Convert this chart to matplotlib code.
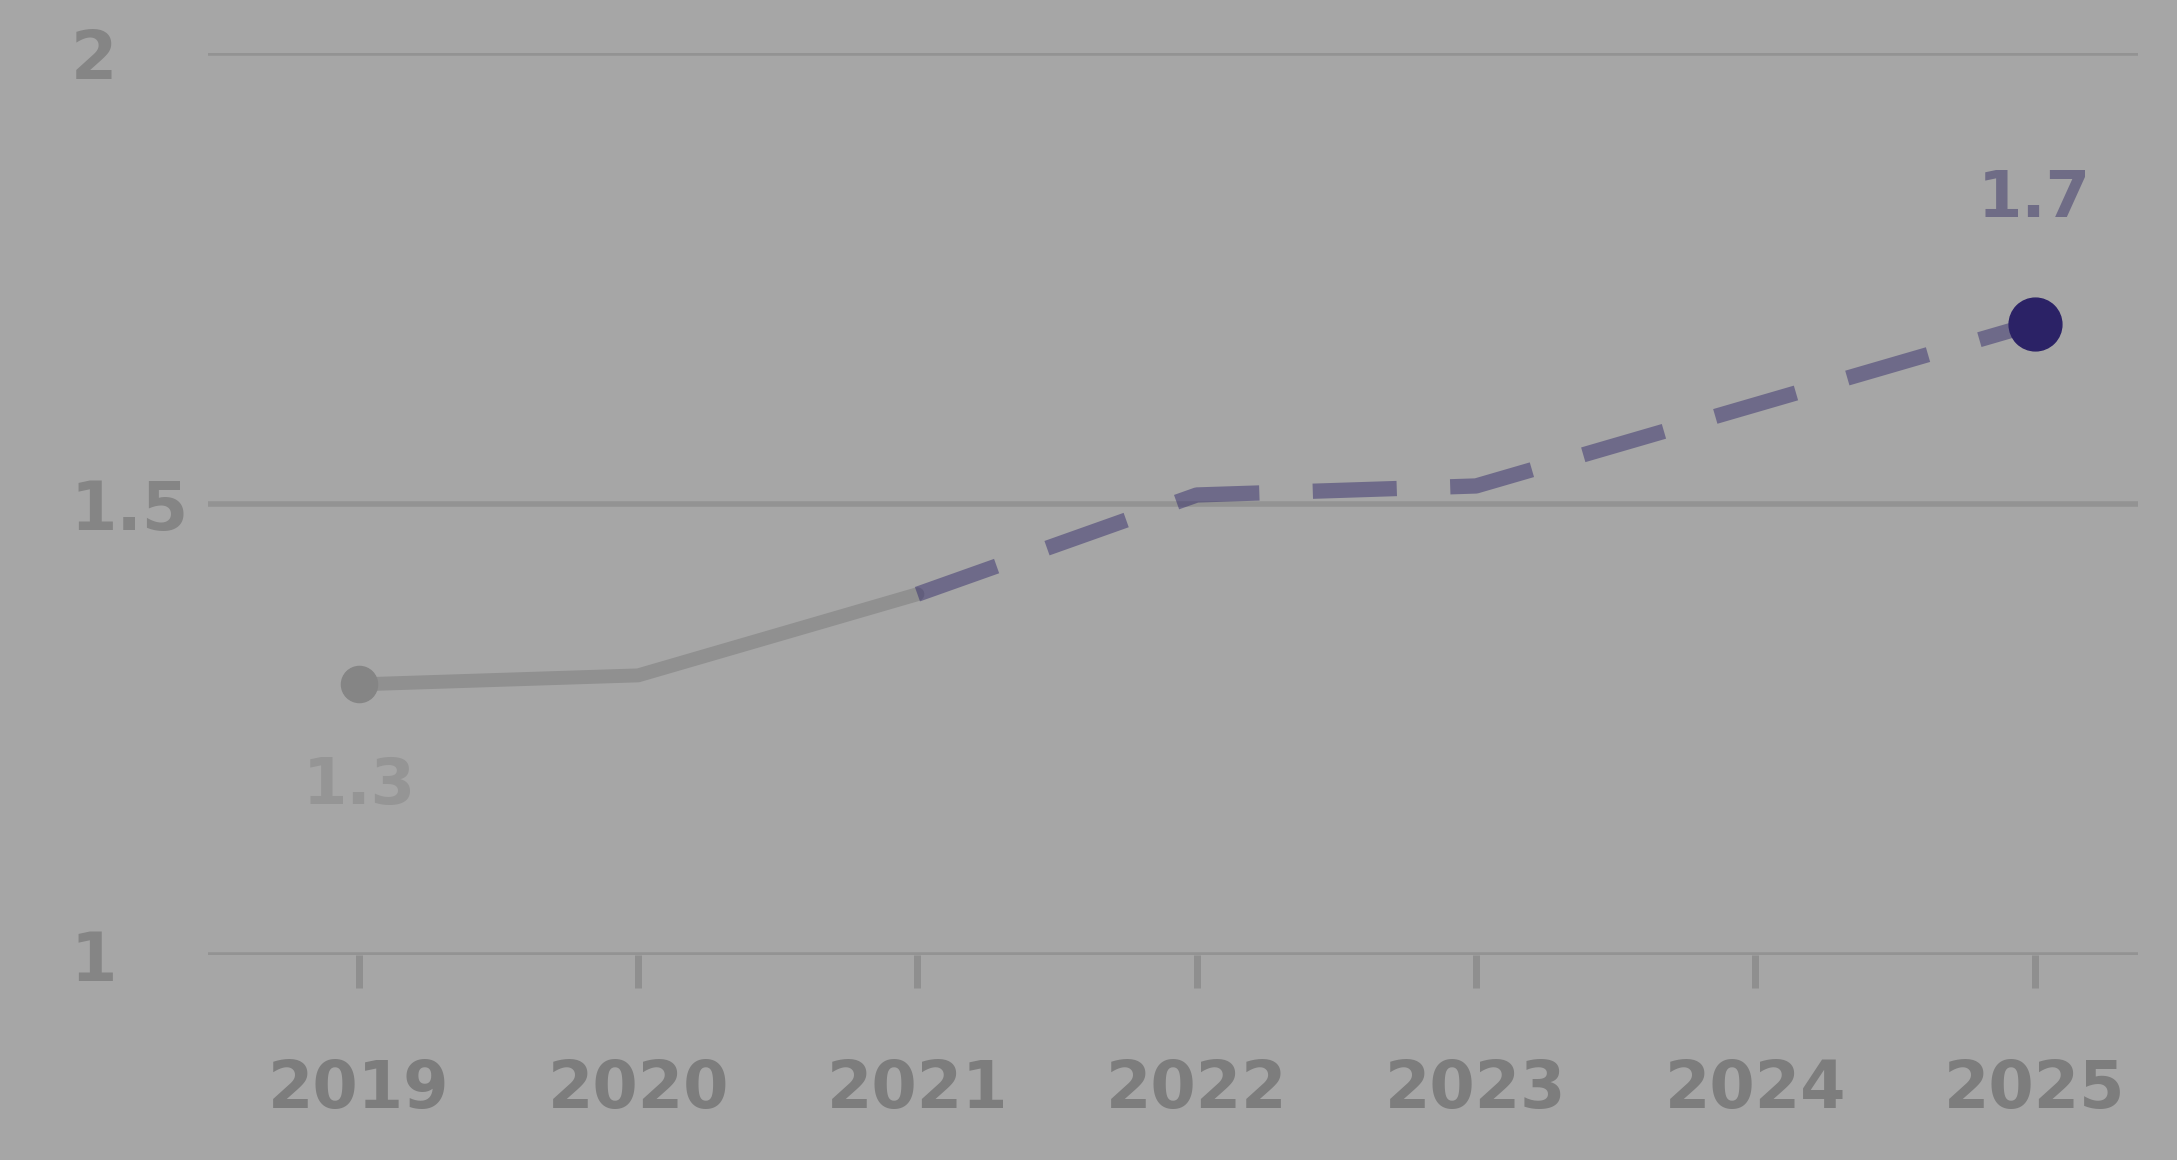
import numpy as np
import matplotlib
matplotlib.use('Agg')
import matplotlib.pyplot as plt

years = [2019, 2020, 2021, 2022, 2023, 2024, 2025]
values = [1.30, 1.31, 1.40, 1.51, 1.52, 1.61, 1.70]
split = 2  # index where the actual series hands over to the projection
y_ticks = [1, 1.5, 2]
y_labels = ['1', '1.5', '2']

bg = '#a6a6a6'
grey_line = '#909090'
navy = '#2b2266'

fig = plt.figure(figsize=(21.77, 11.6), dpi=100, facecolor=bg)
ax = fig.add_axes([208/2177, 1 - 955/1160, (2138-208)/2177, (955-53)/1160])
ax.set_facecolor(bg)

# solid part (actual) and dashed part (projection)
ax.plot(years[:split+1], values[:split+1], color=grey_line, lw=10,
        solid_capstyle='round', zorder=3)
ax.plot(years[split:], values[split:], color=navy, lw=11, alpha=0.45,
        dashes=(5.5, 3.5), zorder=3)
ax.plot(years[0], values[0], 'o', color='#858585', ms=26, zorder=4)
ax.plot(years[-1], values[-1], 'o', color=navy, ms=38, zorder=4)

ax.annotate(f'{values[0]:.1f}', (years[0], values[0]), xytext=(0, -73),
            textcoords='offset points', ha='center', va='center',
            fontsize=46, fontweight='bold', color='#959595')
ax.annotate(f'{values[-1]:.1f}', (years[-1], values[-1]), xytext=(0, 90),
            textcoords='offset points', ha='center', va='center',
            fontsize=46, fontweight='bold', color='#6f6c86')

ax.set_xlim(2018.46, 2025.37)
ax.set_ylim(1, 2)
ax.set_xticks(years)
ax.set_xticklabels([str(y) for y in years], fontsize=47, fontweight='bold',
                   color='#7d7d7d')
ax.set_yticks(y_ticks)
ax.set_yticklabels(y_labels, fontsize=48, fontweight='bold', color='#858585')
for lab in ax.get_yticklabels():
    lab.set_horizontalalignment('left')

ax.tick_params(axis='x', length=24, width=5, color='#8f8f8f', pad=50)
ax.tick_params(axis='y', length=0, pad=99)
ax.grid(axis='y', color='#939393', lw=4)
ax.set_axisbelow(True)
for s in ax.spines.values():
    s.set_visible(False)

fig.savefig('out.png', dpi=100, facecolor=bg)
